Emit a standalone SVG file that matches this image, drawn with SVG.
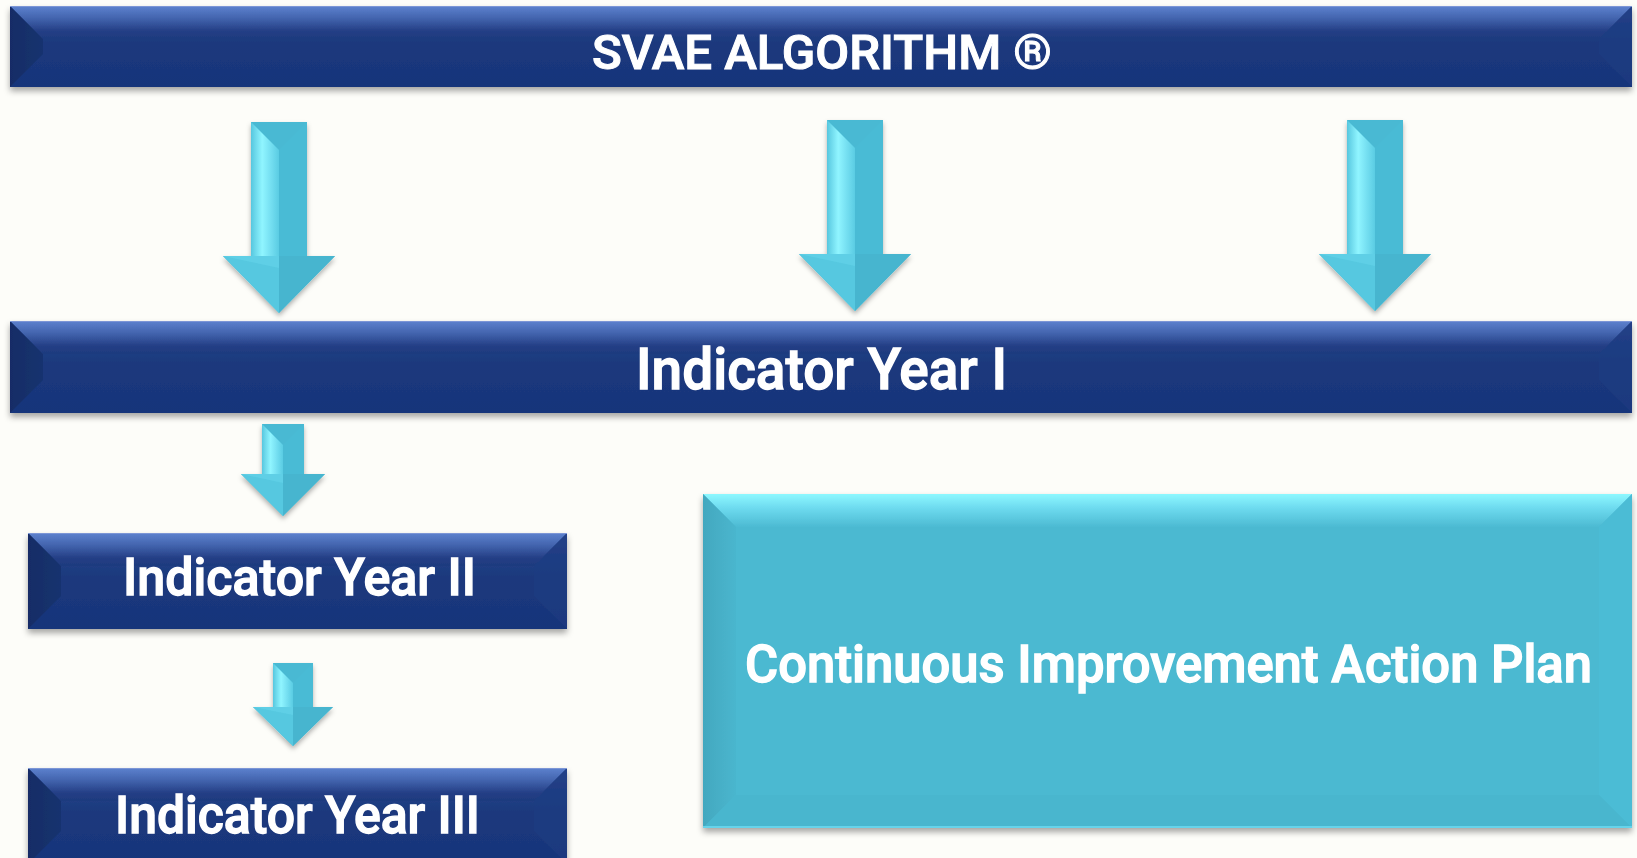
<svg xmlns="http://www.w3.org/2000/svg" xmlns:xlink="http://www.w3.org/1999/xlink" width="1637" height="858" viewBox="0 0 1637 858">
<style>
.lbl{fill:#ffffff;stroke:#ffffff;stroke-width:1.3;font-family:Roboto,"Liberation Sans",sans-serif;font-weight:500}
.ttl{fill:#ffffff;stroke:#ffffff;stroke-width:1;font-family:Roboto,"Liberation Sans",Arial,sans-serif;font-weight:500}
.navy{fill:url(#navyBase)}
.navyTop{fill:url(#navyTop)}
.navyL{fill:url(#navyLeft)}
.navyR{fill:#1E3C82;opacity:0.7}
.cyan{fill:#4BB9D1}
.cyanTop{fill:url(#cyanTop)}
.cyanL{fill:url(#cyanLeft)}
.cyanR{fill:#4CBCD5}
.cyanB{fill:#49B6CE}
.aBase{fill:#4ABBD5}
.aShaftL{fill:url(#shaftL)}
.aTop{fill:#49B9D3}
.aHeadL{fill:#57C8E0}
.aHeadR{fill:#46B5CF}
</style>
<defs>
<linearGradient id="navyBase" x1="0" y1="0" x2="0" y2="1">
<stop offset="0" stop-color="#2C4C95"/>
<stop offset="0.45" stop-color="#1C397D"/>
<stop offset="1" stop-color="#17347A"/>
</linearGradient>
<linearGradient id="navyTop" x1="0" y1="0" x2="0" y2="1">
<stop offset="0" stop-color="#5D81CE"/>
<stop offset="0.35" stop-color="#4466B0"/>
<stop offset="0.75" stop-color="#253F86"/>
<stop offset="1" stop-color="#1D3A7E"/>
</linearGradient>
<linearGradient id="navyLeft" x1="0" y1="0" x2="1" y2="0">
<stop offset="0" stop-color="#142C66"/>
<stop offset="1" stop-color="#18336F"/>
</linearGradient>
<linearGradient id="cyanTop" x1="0" y1="0" x2="0" y2="1">
<stop offset="0" stop-color="#8EF8FF"/>
<stop offset="0.4" stop-color="#6FDCF0"/>
<stop offset="1" stop-color="#4CBAD2"/>
</linearGradient>
<linearGradient id="cyanLeft" x1="0" y1="0" x2="1" y2="0">
<stop offset="0" stop-color="#43A8BF"/>
<stop offset="1" stop-color="#4AB6CE"/>
</linearGradient>
<linearGradient id="shaftL" x1="0" y1="0" x2="1" y2="0">
<stop offset="0" stop-color="#57C7DF"/>
<stop offset="0.4" stop-color="#90F5FF"/>
<stop offset="0.65" stop-color="#7AE3F4"/>
<stop offset="1" stop-color="#5ACCE3"/>
</linearGradient>
<filter id="shadow" x="-5%" y="-20%" width="110%" height="150%">
<feDropShadow dx="0" dy="4" stdDeviation="3" flood-color="#000000" flood-opacity="0.35"/>
</filter>
<filter id="ashadow" x="-30%" y="-10%" width="160%" height="130%">
<feDropShadow dx="0" dy="3" stdDeviation="2.5" flood-color="#000000" flood-opacity="0.3"/>
</filter>
<g id="bigArrow">
<polygon class="aBase" points="-28,0 28,0 28,134 56,134 0,191 -56,134 -28,134"/>
<polygon class="aTop" points="-28,0 28,0 0,28"/>
<polygon class="aShaftL" points="-28,0 0,28 0,134 -28,134"/>
<polygon class="aHeadL" points="-56,134 0,134 0,191"/>
<polygon class="aHeadR" points="0,134 56,134 0,191"/>
<polygon fill="#62D3E9" opacity="0.6" points="-56,134 0,134 0,146"/>
</g>
</defs>
<rect width="1637" height="858" fill="#FDFDF9"/>

<g id="connectors">
<use xlink:href="#bigArrow" href="#bigArrow" x="279" y="122" filter="url(#ashadow)"/>
<use xlink:href="#bigArrow" href="#bigArrow" x="855" y="120" filter="url(#ashadow)"/>
<use xlink:href="#bigArrow" href="#bigArrow" x="1375" y="120" filter="url(#ashadow)"/>
<g id="arrow-small-1" filter="url(#ashadow)">
<polygon class="aBase" points="262,424 304,424 304,474 325,474 283,516 241,474 262,474"/>
<polygon class="aTop" points="262,424 304,424 283,445"/>
<polygon class="aShaftL" points="262,424 283,445 283,474 262,474"/>
<polygon class="aHeadL" points="241,474 283,474 283,516"/>
<polygon class="aHeadR" points="283,474 325,474 283,516"/>
<polygon fill="#62D3E9" opacity="0.6" points="241,474 283,474 283,483"/>
</g>
<g id="arrow-small-2" filter="url(#ashadow)">
<polygon class="aBase" points="273,663 313,663 313,707 333,707 293,746 253,707 273,707"/>
<polygon class="aTop" points="273,663 313,663 293,683"/>
<polygon class="aShaftL" points="273,663 293,683 293,707 273,707"/>
<polygon class="aHeadL" points="253,707 293,707 293,746"/>
<polygon class="aHeadR" points="293,707 333,707 293,746"/>
<polygon fill="#62D3E9" opacity="0.6" points="253,707 293,707 293,715"/>
</g>
</g>

<g id="node-svae" filter="url(#shadow)">
<rect class="navy" x="10" y="6" width="1622" height="81"/>
<polygon class="navyTop" points="10,6 1632,6 1599,39 43,39"/>
<polygon class="navyL" points="10,6 43,39 43,54 10,87"/>
<polygon class="navyR" points="1632,6 1599,39 1599,54 1632,87"/>
<rect x="10" y="6" width="1622" height="1" fill="#7B96D6"/>
<text class="ttl" x="592" y="69" font-size="48" textLength="460" lengthAdjust="spacingAndGlyphs">SVAE ALGORITHM ®</text>
</g>

<g id="node-year1" filter="url(#shadow)">
<rect class="navy" x="10" y="321" width="1622" height="92"/>
<polygon class="navyTop" points="10,321 1632,321 1599,354 43,354"/>
<polygon class="navyL" points="10,321 43,354 43,380 10,413"/>
<polygon class="navyR" points="1632,321 1599,354 1599,380 1632,413"/>
<rect x="10" y="321" width="1622" height="1" fill="#7B96D6"/>
<text class="lbl" x="636" y="389" font-size="57" textLength="371" lengthAdjust="spacingAndGlyphs">Indicator Year I</text>
</g>

<g id="node-year2" filter="url(#shadow)">
<rect class="navy" x="28" y="533" width="539" height="96"/>
<polygon class="navyTop" points="28,533 567,533 534,566 61,566"/>
<polygon class="navyL" points="28,533 61,566 61,596 28,629"/>
<polygon class="navyR" points="567,533 534,566 534,596 567,629"/>
<rect x="28" y="533" width="539" height="1" fill="#7B96D6"/>
<text class="lbl" x="123" y="595" font-size="52" textLength="353" lengthAdjust="spacingAndGlyphs">Indicator Year II</text>
</g>

<g id="node-year3" filter="url(#shadow)">
<rect class="navy" x="28" y="768" width="539" height="96"/>
<polygon class="navyTop" points="28,768 567,768 534,801 61,801"/>
<polygon class="navyL" points="28,768 61,801 61,831 28,864"/>
<polygon class="navyR" points="567,768 534,801 534,831 567,864"/>
<rect x="28" y="768" width="539" height="1" fill="#7B96D6"/>
<text class="lbl" x="115" y="833" font-size="51" textLength="365" lengthAdjust="spacingAndGlyphs">Indicator Year III</text>
</g>

<g id="node-plan" filter="url(#shadow)">
<rect class="cyan" x="703" y="494" width="929" height="334"/>
<polygon class="cyanTop" points="703,494 1632,494 1599,527 736,527"/>
<polygon class="cyanL" points="703,494 736,527 736,795 703,828"/>
<polygon class="cyanR" points="1632,494 1599,527 1599,795 1632,828"/>
<polygon class="cyanB" points="703,828 736,795 1599,795 1632,828"/>
<rect x="703" y="826" width="929" height="2" fill="#66D3EA"/>
<text class="lbl" x="745" y="682" font-size="51" textLength="847" lengthAdjust="spacingAndGlyphs">Continuous Improvement Action Plan</text>
</g>
</svg>
